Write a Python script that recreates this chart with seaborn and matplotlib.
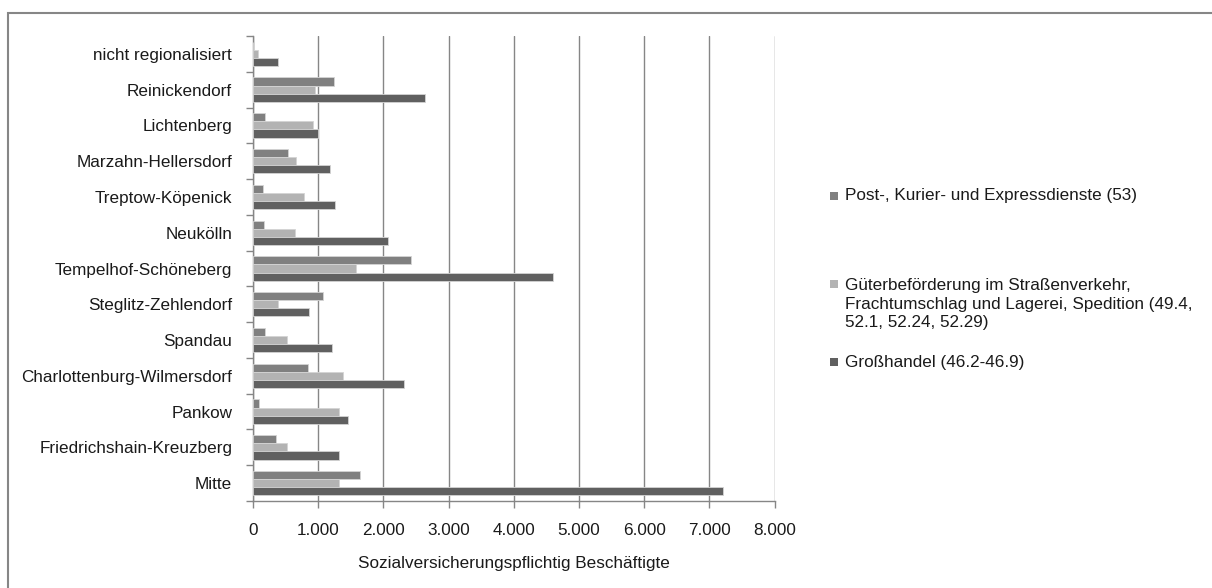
import matplotlib
matplotlib.use("Agg")
import matplotlib.pyplot as plt
from matplotlib.patches import Rectangle
from matplotlib.ticker import FuncFormatter, FixedLocator
import seaborn as sns
import pandas as pd

# Berlin districts, listed top to bottom
bezirke = [
    "nicht regionalisiert", "Reinickendorf", "Lichtenberg", "Marzahn-Hellersdorf",
    "Treptow-Köpenick", "Neukölln", "Tempelhof-Schöneberg", "Steglitz-Zehlendorf",
    "Spandau", "Charlottenburg-Wilmersdorf", "Pankow", "Friedrichshain-Kreuzberg",
    "Mitte",
]

serie_post = "Post-, Kurier- und Expressdienste (53)"
serie_gueter = ("Güterbeförderung im Straßenverkehr,\nFrachtumschlag und Lagerei, "
                "Spedition (49.4,\n52.1, 52.24, 52.29)")
serie_gross = "Großhandel (46.2-46.9)"

post = [0, 1240, 180, 540, 150, 165, 2425, 1080, 180, 845, 85, 350, 1645]
gueter = [70, 945, 915, 665, 775, 645, 1585, 380, 525, 1380, 1320, 520, 1315]
gross = [385, 2645, 995, 1180, 1255, 2065, 4600, 865, 1210, 2320, 1460, 1315, 7215]

x_ticks = [0, 1000, 2000, 3000, 4000, 5000, 6000, 7000, 8000]

serien = [serie_post, serie_gueter, serie_gross]
farben = ["#808080", "#b3b3b3", "#606060"]

df = pd.DataFrame({
    "Bezirk": bezirke * 3,
    "Serie": [serie_post] * len(bezirke) + [serie_gueter] * len(bezirke) + [serie_gross] * len(bezirke),
    "Wert": post + gueter + gross,
})

sns.set_theme(style="white")
plt.rcParams["font.family"] = ["Liberation Sans", "DejaVu Sans"]

W, H = 1212, 588
fs = 12.3
textfarbe = "#1a1a1a"
grau = "#868686"

fig = plt.figure(figsize=(W / 100, H / 100), dpi=100)
ax = fig.add_axes([253 / W, 1 - 501 / H, (774.6 - 253) / W, (501 - 36) / H])

sns.barplot(data=df, y="Bezirk", x="Wert", hue="Serie", order=bezirke,
            hue_order=serien, palette=farben, width=0.68, orient="h",
            edgecolor="#d4d4d4", linewidth=0.6, legend=False, ax=ax, zorder=3)

ax.set_xlim(0, 8000)
ax.set_ylim(len(bezirke) - 0.5, -0.5)
ax.xaxis.set_major_locator(FixedLocator(x_ticks))
ax.xaxis.set_major_formatter(FuncFormatter(lambda v, p: f"{int(v):,}".replace(",", ".")))
ax.grid(axis="x", color=grau, linewidth=1.0, zorder=0)
ax.grid(axis="y", visible=False)

for side in ("top", "right"):
    ax.spines[side].set_visible(False)
for side in ("left", "bottom"):
    ax.spines[side].set_color(grau)
    ax.spines[side].set_linewidth(1.0)

ax.yaxis.set_minor_locator(FixedLocator([i - 0.5 for i in range(len(bezirke) + 1)]))
ax.tick_params(axis="y", which="major", length=0, pad=15, labelsize=fs, labelcolor=textfarbe)
ax.tick_params(axis="y", which="minor", left=True, length=5, width=1, color=grau)
ax.tick_params(axis="x", which="major", bottom=True, length=5, width=1, color=grau,
               pad=11, labelsize=fs, labelcolor=textfarbe)

ax.set_ylabel("")
ax.set_xlabel("Sozialversicherungspflichtig Beschäftigte", fontsize=fs,
              color=textfarbe, labelpad=13)

# legend: small squares beside the first line of each label
legende = [(serie_post, farben[0], 196), (serie_gueter, farben[1], 284), (serie_gross, farben[2], 362)]
zeilenabstand = 20
for text, farbe, y in legende:
    n = text.count("\n")
    fig.add_artist(Rectangle((830 / W, 1 - (y + 4) / H), 8 / W, 8 / H,
                             transform=fig.transFigure, facecolor=farbe, edgecolor="none"))
    fig.text(845 / W, 1 - (y + n * zeilenabstand / 2) / H, text, fontsize=fs,
             color=textfarbe, ha="left", va="center", linespacing=1.3)

# outer chart frame
fig.add_artist(Rectangle((8 / W, -0.05), 1.2, 1.05 - 13 / H, transform=fig.transFigure,
                         facecolor="none", edgecolor=grau, linewidth=1.5))

fig.savefig("out.png", dpi=100, facecolor="white")
